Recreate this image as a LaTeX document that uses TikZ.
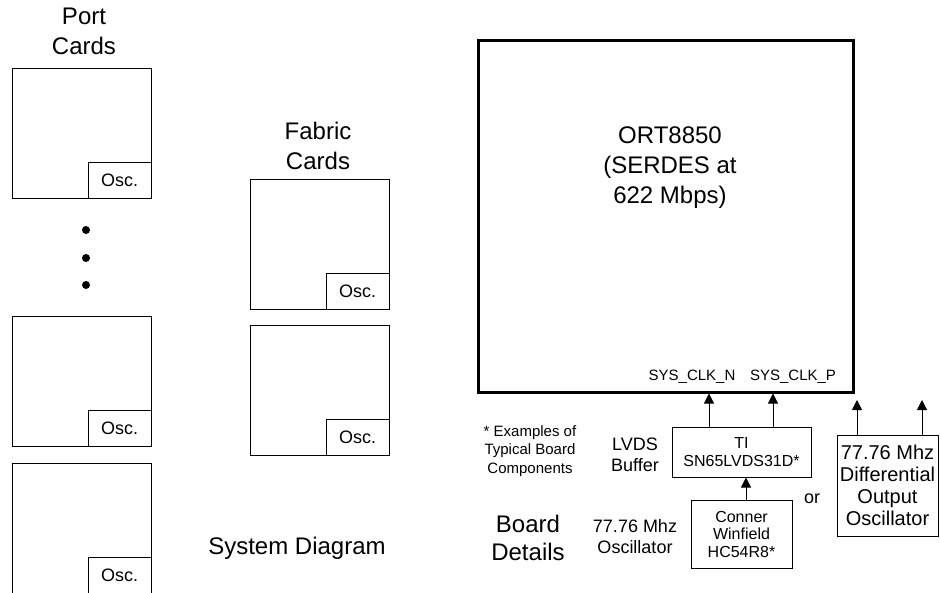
\documentclass[tikz,border=0pt]{standalone}
\usepackage{fontspec}
\setmainfont{Liberation Sans}
\usetikzlibrary{arrows.meta}
\begin{document}
\begin{tikzpicture}[x=1pt,y=-1pt,
    card/.style={draw,line width=1pt,minimum width=139pt,minimum height=130pt,inner sep=0pt},
    osc/.style={draw,line width=1pt,minimum width=63pt,minimum height=36pt,inner sep=0pt,anchor=south east,font=\fontsize{18}{18}\selectfont},
    part/.style={draw,line width=1pt,inner sep=0pt,align=center},
    big/.style={align=center,font=\fontsize{24}{30}\selectfont},
    mid/.style={align=center,font=\fontsize{18}{21}\selectfont},
    small/.style={align=center,font=\fontsize{15}{18.5}\selectfont},
    arr/.style={line width=1pt,-{Triangle[width=10pt,length=10pt]}},
    dot/.style={circle,fill,inner sep=0pt,minimum size=8pt}]
    \useasboundingbox (0,0) rectangle (940,592);
    \node[big] (portT) at (84,31) {Port\\Cards};
    \node[card] (p1) at (81.5,133) {};
    \node[osc] (o1) at (p1.south east) {Osc.};
    \node[dot] (d1) at (86,230) {};
    \node[dot] (d2) at (86,258) {};
    \node[dot] (d3) at (86,285) {};
    \node[card] (p2) at (81.5,381) {};
    \node[osc] (o2) at (p2.south east) {Osc.};
    \node[card] (p3) at (81.5,528) {};
    \node[osc] (o3) at (p3.south east) {Osc.};
    \node[big] (fabT) at (318,146) {Fabric\\Cards};
    \node[card] (f1) at (319.5,244) {};
    \node[osc] (o4) at (f1.south east) {Osc.};
    \node[card] (f2) at (319.5,390) {};
    \node[osc] (o5) at (f2.south east) {Osc.};
    \node[big] (sys) at (297,548) {System Diagram};
    \node[draw,line width=3pt,minimum width=375pt,minimum height=352pt,inner sep=0pt] (ort) at (665.5,216) {};
    \node[big] (ortT) at (670,168) {ORT8850\\(SERDES at\\622 Mbps)};
    \node[font=\fontsize{15}{15}\selectfont] (clkN) at (692,377) {SYS\_CLK\_N};
    \node[font=\fontsize{15}{15}\selectfont] (clkP) at (793,377) {SYS\_CLK\_P};
    \node[part,minimum width=139pt,minimum height=50pt,font=\fontsize{16}{18}\selectfont] (lvds) at (741.5,452) {TI\\SN65LVDS31D*};
    \node[part,minimum width=101pt,minimum height=68pt,font=\fontsize{16}{17.5}\selectfont] (cw) at (741.5,534) {Conner\\Winfield\\HC54R8*};
    \node[part,minimum width=101pt,minimum height=101pt,font=\fontsize{20}{22}\selectfont] (diff) at (887.5,485.5) {77.76 Mhz\\Differential\\Output\\Oscillator};
    \node[mid] (orT) at (812,499) {or};
    \node[small] (ex) at (530,451) {* Examples of\\Typical Board\\Components};
    \node[mid] (lvdsT) at (635,454.5) {LVDS\\Buffer};
    \node[mid] (oscT) at (635,537) {77.76 Mhz\\Oscillator};
    \node[big,font=\fontsize{24}{28}\selectfont] (board) at (528,538) {Board\\Details};
    \coordinate (dn) at (857,400);
    \coordinate (dp) at (922,400);
    \draw[arr] ([xshift=-32.5pt]lvds.north) -- ([xshift=-32.5pt]lvds.north |- ort.south);
    \draw[arr] ([xshift=31.5pt]lvds.north) -- ([xshift=31.5pt]lvds.north |- ort.south);
    \draw[arr] ([xshift=4.5pt]cw.north) -- ([xshift=4.5pt]cw.north |- lvds.south);
    \draw[arr] (diff.north -| dn) -- (dn);
    \draw[arr] (diff.north -| dp) -- (dp);
\end{tikzpicture}
\end{document}
